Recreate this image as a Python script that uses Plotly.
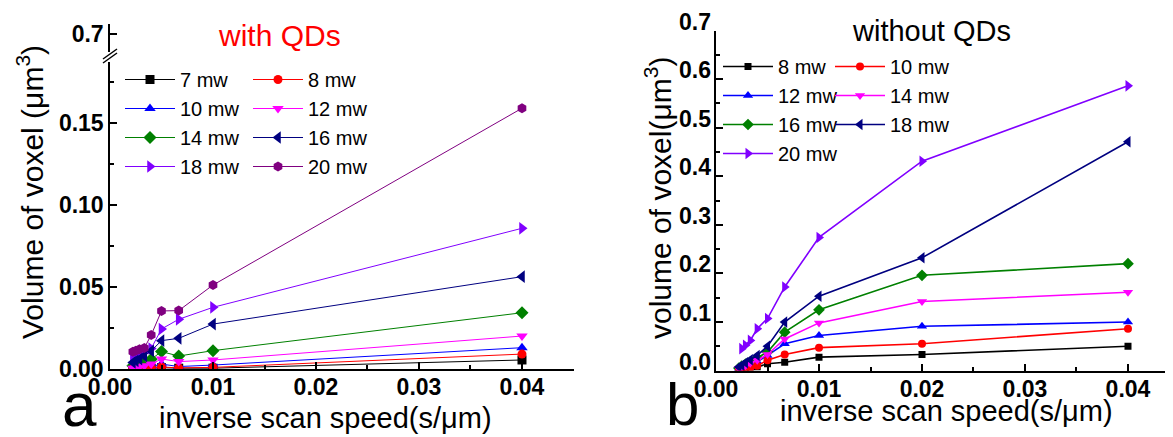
import plotly.graph_objects as go

W, H = 1173, 437
OFF = 8  # the page body adds an 8 px margin around the figure
FONT = "Arial, 'Liberation Sans', sans-serif"

def px(x):
    return (x - OFF) / W

def py(y):
    return 1 - (y - OFF) / H

# ---------------- data: panel a (with QDs) ----------------
x_a = [0.00222, 0.0025, 0.00286, 0.00333, 0.004, 0.005, 0.00667, 0.01, 0.04]
a_7mw = [0.0001, 0.0002, 0.0002, 0.0003, 0.0005, 0.0008, 0.0005, 0.0005, 0.0055]
a_8mw = [0.0002, 0.0003, 0.0004, 0.0005, 0.0008, 0.0012, 0.0007, 0.0010, 0.0091]
a_10mw = [0.0003, 0.0005, 0.0008, 0.0010, 0.0015, 0.0030, 0.0015, 0.0024, 0.0130]
a_12mw = [0.0005, 0.0010, 0.0015, 0.0020, 0.0030, 0.0061, 0.0045, 0.0055, 0.0201]
a_14mw = [0.0020, 0.0030, 0.0040, 0.0050, 0.0060, 0.0106, 0.0079, 0.0112, 0.0343]
a_16mw = [0.0040, 0.0050, 0.0060, 0.0080, 0.0110, 0.0173, 0.0187, 0.0274, 0.0563]
a_18mw = [0.0070, 0.0080, 0.0095, 0.0105, 0.0125, 0.0244, 0.0303, 0.0376, 0.0858]
a_20mw = [0.0105, 0.0112, 0.0120, 0.0128, 0.0207, 0.0354, 0.0356, 0.0512, 0.1590]

# ---------------- data: panel b (without QDs) ----------------
x_b = [0.00222, 0.0025, 0.00286, 0.00333, 0.004, 0.005, 0.00667, 0.01, 0.02, 0.04]
b_8mw = [0.000, 0.001, 0.002, 0.004, 0.007, 0.014, 0.017, 0.0275, 0.033, 0.050]
b_10mw = [0.001, 0.002, 0.004, 0.006, 0.010, 0.021, 0.033, 0.047, 0.055, 0.086]
b_12mw = [0.003, 0.006, 0.009, 0.013, 0.018, 0.031, 0.055, 0.072, 0.091, 0.0997]
b_14mw = [0.004, 0.007, 0.010, 0.015, 0.021, 0.033, 0.065, 0.098, 0.142, 0.161]
b_16mw = [0.005, 0.009, 0.013, 0.018, 0.026, 0.038, 0.079, 0.125, 0.196, 0.220]
b_18mw = [0.007, 0.011, 0.016, 0.022, 0.031, 0.050, 0.0996, 0.153, 0.232, 0.471]
x_b20 = [0.0025, 0.00286, 0.00333, 0.004, 0.005, 0.00667, 0.01, 0.02, 0.04]
b_20mw = [0.045, 0.052, 0.062, 0.086, 0.107, 0.172, 0.274, 0.431, 0.586]

b_ytick_vals = [0.0, 0.1, 0.2, 0.3, 0.4, 0.5, 0.6, 0.7]

# ---------------- styles ----------------
BLACK, RED, BLUE, MAG = "#000000", "#FF0000", "#0000FF", "#FF00FF"
GREEN, NAVY, VIOLET, PURPLE = "#008000", "#000080", "#8000FF", "#800080"

fig = go.Figure()

def add(x, y, name, color, symbol, xa, ya, legend, size, lw):
    fig.add_trace(go.Scatter(
        x=x, y=y, name=name, mode="lines+markers",
        line=dict(color=color, width=lw),
        marker=dict(color=color, symbol=symbol, size=size),
        xaxis=xa, yaxis=ya, legend=legend))

# panel a: column 1 -> legend, column 2 -> legend2
add(x_a, a_7mw, "7 mw", BLACK, "square", "x", "y", "legend", 9, 1)
add(x_a, a_10mw, "10 mw", BLUE, "triangle-up", "x", "y", "legend", 10, 1)
add(x_a, a_14mw, "14 mw", GREEN, "diamond", "x", "y", "legend", 10, 1)
add(x_a, a_18mw, "18 mw", VIOLET, "triangle-right", "x", "y", "legend", 11, 1)
add(x_a, a_8mw, "8 mw", RED, "circle", "x", "y", "legend2", 9, 1)
add(x_a, a_12mw, "12 mw", MAG, "triangle-down", "x", "y", "legend2", 10, 1)
add(x_a, a_16mw, "16 mw", NAVY, "triangle-left", "x", "y", "legend2", 11, 1)
add(x_a, a_20mw, "20 mw", PURPLE, "hexagon", "x", "y", "legend2", 10, 1)

# panel b: column 1 -> legend3, column 2 -> legend4
add(x_b, b_8mw, "8 mw", BLACK, "square", "x2", "y2", "legend3", 7, 1.6)
add(x_b, b_12mw, "12 mw", BLUE, "triangle-up", "x2", "y2", "legend3", 9, 1.6)
add(x_b, b_16mw, "16 mw", GREEN, "diamond", "x2", "y2", "legend3", 9, 1.6)
add(x_b20, b_20mw, "20 mw", VIOLET, "triangle-right", "x2", "y2", "legend3", 10, 1.6)
add(x_b, b_10mw, "10 mw", RED, "circle", "x2", "y2", "legend4", 8, 1.6)
add(x_b, b_14mw, "14 mw", MAG, "triangle-down", "x2", "y2", "legend4", 9, 1.6)
add(x_b, b_18mw, "18 mw", NAVY, "triangle-left", "x2", "y2", "legend4", 10, 1.6)

# empty trace so the upper (broken) axis segment gets drawn
fig.add_trace(go.Scatter(x=[], y=[], xaxis="x", yaxis="y3", showlegend=False))

tickfont = dict(family=FONT, size=23, color="black")
common = dict(showline=True, linecolor="black", linewidth=1.5, showgrid=False,
              zeroline=False, ticks="inside", ticklen=7, tickwidth=1.5,
              tickcolor="black", tickfont=tickfont, automargin=False,
              tickprefix="<b>", ticksuffix="</b>")

fig.update_layout(
    template="none",
    width=W, height=H,
    margin=dict(l=0, r=0, t=0, b=0, pad=0, autoexpand=False),
    paper_bgcolor="white", plot_bgcolor="white",
    font=dict(family=FONT, color="black"),
    xaxis=dict(domain=[px(110), px(574)], range=[0, 0.04505], anchor="y",
               dtick=0.01, tickformat=".2f",
               minor=dict(dtick=0.005, ticks="inside", ticklen=4, tickcolor="black"),
               **common),
    yaxis=dict(domain=[py(369), py(62)], range=[0, 0.1872], anchor="x",
               dtick=0.05, tickformat=".2f",
               minor=dict(dtick=0.025, ticks="inside", ticklen=4, tickcolor="black"),
               **common),
    yaxis3=dict(domain=[py(52), py(24)], range=[0.682, 0.71], anchor="x",
                tickvals=[0.7], ticktext=["<b>0.7</b>"],
                minor=dict(tickvals=[0.71], ticks="inside", ticklen=7, tickcolor="black"),
                **common),
    xaxis2=dict(domain=[px(716), px(1173)], range=[0, 0.04437], anchor="y2",
                dtick=0.01, tickformat=".2f",
                minor=dict(dtick=0.005, ticks="inside", ticklen=4, tickcolor="black"),
                **common),
    yaxis2=dict(domain=[py(370.5), py(30.5)], range=[0, 0.7], anchor="x2",
                dtick=0.1, showticklabels=False,
                minor=dict(dtick=0.05, ticks="inside", ticklen=4, tickcolor="black"),
                **common),
    showlegend=True,
)

# pull the x tick labels a little closer to the axis, as in the original
try:
    fig.update_layout(xaxis_ticklabelstandoff=-3, xaxis2_ticklabelstandoff=-3)
except Exception:
    pass

legfont = dict(family=FONT, size=20, color="black")
legbase = dict(orientation="v", bgcolor="rgba(0,0,0,0)", borderwidth=0,
               font=legfont, itemwidth=50, tracegroupgap=0,
               xanchor="left", yanchor="top", itemclick=False)
fig.update_layout(
    legend=dict(x=px(120), y=py(60), **legbase),
    legend2=dict(x=px(248), y=py(60), **legbase),
    legend3=dict(x=px(718), y=py(47), **legbase),
    legend4=dict(x=px(830), y=py(47), **legbase),
)

def note(x, y, text, size, color="black", angle=0):
    return dict(x=px(x), y=py(y), xref="paper", yref="paper", showarrow=False,
                xanchor="center", yanchor="middle", text=text, textangle=angle,
                font=dict(family=FONT, size=size, color=color))

ann = []
# right panel y tick labels (drawn slightly above their ticks as in the original)
for v in b_ytick_vals:
    ann.append(dict(x=px(713), xref="paper", y=v, yref="y2", yshift=9,
                    text=f"<b>{v:.1f}</b>", showarrow=False, xanchor="right",
                    yanchor="middle", font=tickfont))
ann += [
    note(30, 192, "Volume of voxel (μm<sup>3</sup>)", 30, angle=-90),
    note(658, 198, "volume of voxel(μm<sup>3</sup>)", 30, angle=-90),
    note(325, 418, "inverse scan speed(s/μm)", 29),
    note(946, 411, "inverse scan speed(s/μm)", 29),
    note(279, 35, "with QDs", 30, color="#FF0000"),
    note(931, 31, "without QDs", 29),
    note(79, 404, "a", 62),
    note(682, 404, "b", 60),
]
fig.update_layout(annotations=ann)

# axis-break marks "//" on the left y axis
for dy in (0, 4):
    fig.add_shape(type="line", xref="paper", yref="paper",
                  x0=px(103), y0=py(63 - dy), x1=px(117), y1=py(53 - dy),
                  line=dict(color="black", width=1.5))

fig.write_html("out.html")
